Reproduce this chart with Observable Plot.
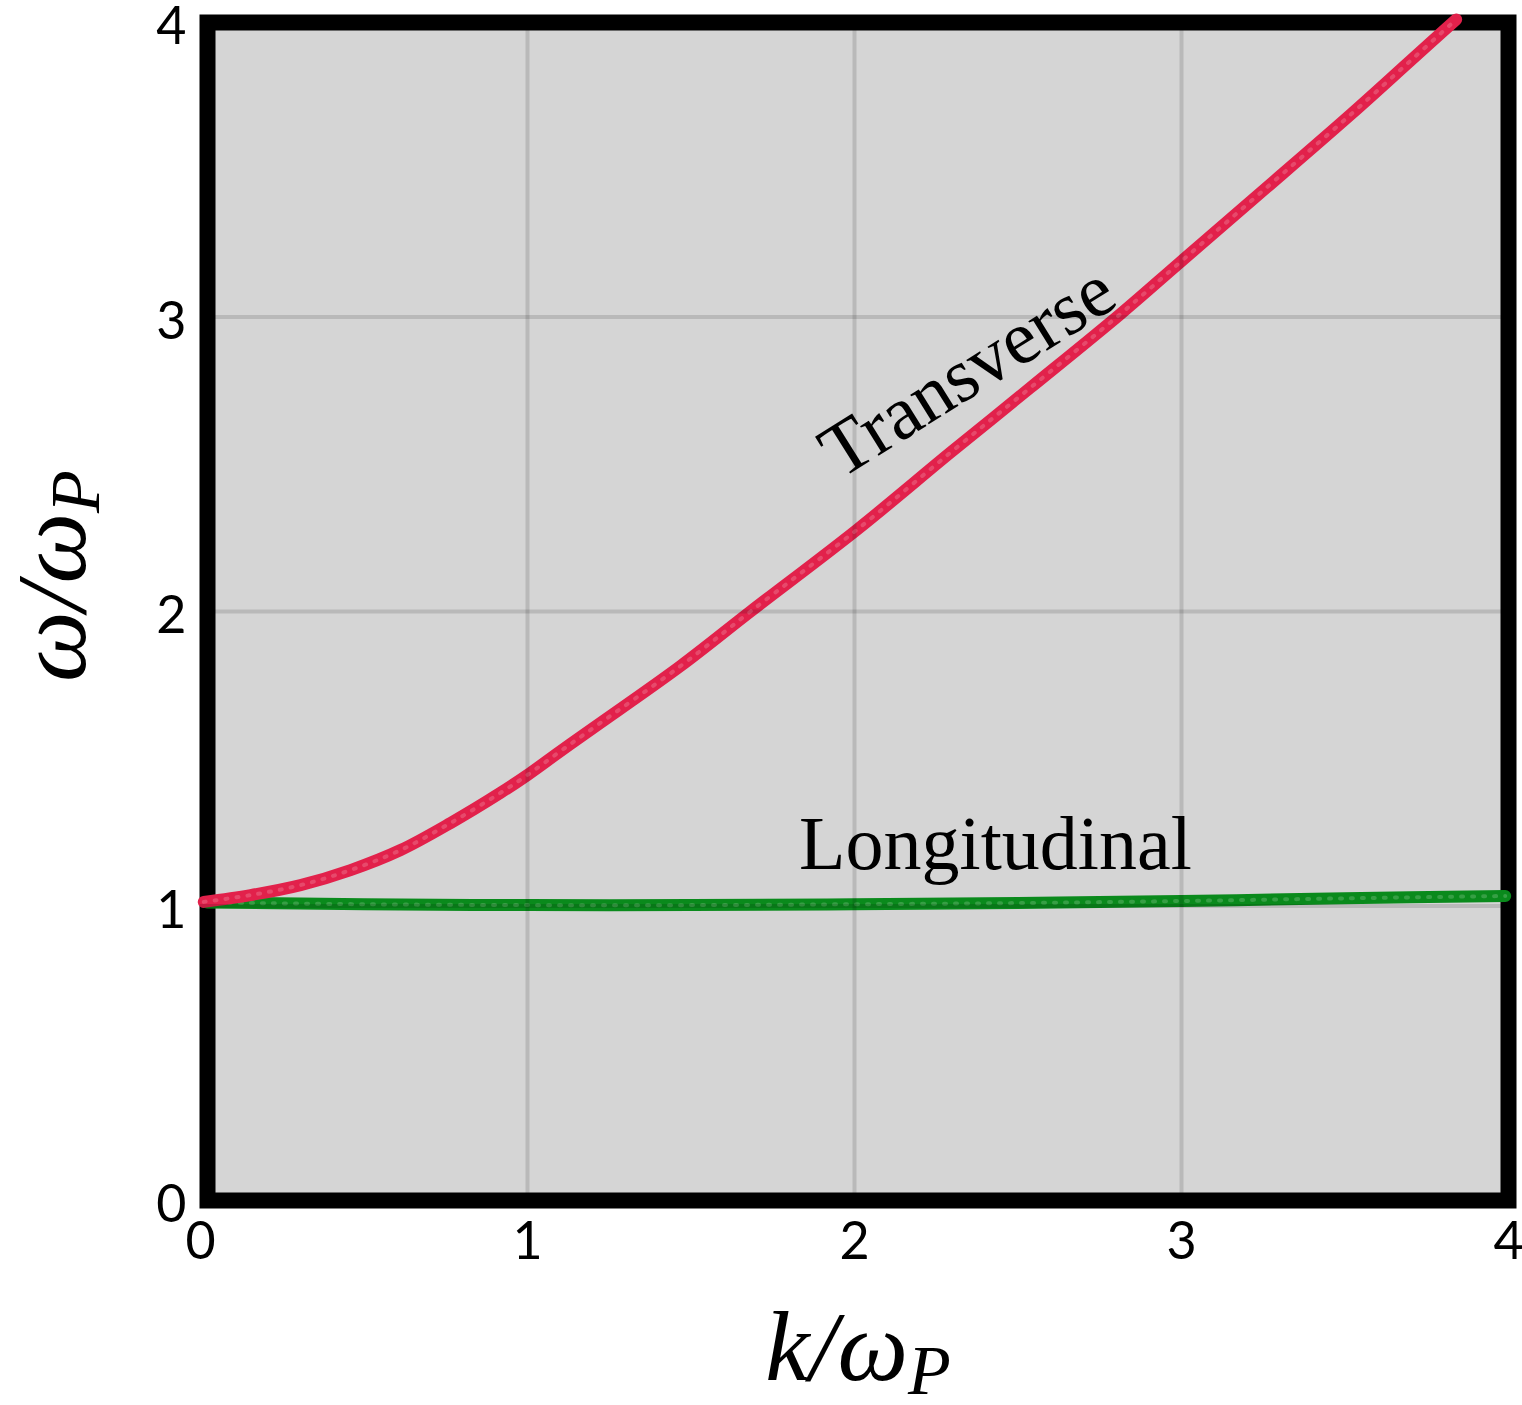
<!DOCTYPE html>
<html>
<head>
<meta charset="utf-8">
<script src="https://cdn.jsdelivr.net/npm/d3@7"></script>
<script src="https://cdn.jsdelivr.net/npm/@observablehq/plot@0.6"></script>
<style>
  html, body { margin: 0; padding: 0; background: white; }
  #chart svg { display: block; }
</style>
</head>
<body>
<div id="chart"></div>
<script>
// Transverse branch (k/ωP, ω/ωP)
const transverseK = [0.01, 0.153, 0.306, 0.459, 0.612, 0.765, 0.917, 1.0, 1.10, 1.208, 1.468, 1.682, 2.009, 2.294, 2.538, 2.813, 2.997, 3.24, 3.52, 3.70, 3.84];
const transverseW = [1.014, 1.037, 1.071, 1.122, 1.19, 1.282, 1.384, 1.445, 1.525, 1.61, 1.815, 2.0, 2.279, 2.54, 2.76, 3.01, 3.187, 3.42, 3.69, 3.87, 4.01];
// Longitudinal branch
const longitudinalK = [0.02, 0.5, 1.0, 1.5, 2.0, 2.5, 3.0, 3.5, 3.99];
const longitudinalW = [1.012, 1.006, 1.003, 1.003, 1.006, 1.01, 1.017, 1.026, 1.034];
// Ticks
const tickValues = [0, 1, 2, 3, 4];
const gridValues = [1, 2, 3];
// Curve labels
const labelTexts = ["Transverse", "Longitudinal"];
const labelK = [2.385, 2.431];
const labelW = [2.745, 1.127];
const labelRotate = [-32, 0];

const transverse = transverseK.map((k, i) => ({k, w: transverseW[i]}));
const longitudinal = longitudinalK.map((k, i) => ({k, w: longitudinalW[i]}));
const labels = labelTexts.map((t, i) => ({t, k: labelK[i], w: labelW[i], r: labelRotate[i]}));

const chalk = {strokeWidth: 4, stroke: "white", strokeOpacity: 0.18, strokeDasharray: "2 9", curve: "catmull-rom", clip: false};

const chart = Plot.plot({
  width: 1522,
  height: 1405,
  marginLeft: 200,
  marginRight: 14,
  marginTop: 22,
  marginBottom: 205,
  style: {fontFamily: "Lato, 'Noto Sans', sans-serif", fontSize: "52px", color: "black", background: "white", overflow: "visible"},
  x: {domain: [0, 4]},
  y: {domain: [0, 4]},
  marks: [
    Plot.frame({fill: "#d5d5d5", insetLeft: 7}),
    Plot.frame({stroke: "black", strokeWidth: 16, insetLeft: 7}),
    Plot.line(longitudinal, {x: "k", y: "w", stroke: "#0a8a1c", strokeWidth: 12, curve: "catmull-rom", clip: false}),
    Plot.line(longitudinal, {x: "k", y: "w", ...chalk}),
    Plot.line(transverse, {x: "k", y: "w", stroke: "#e2214b", strokeWidth: 12, curve: "catmull-rom", clip: false}),
    Plot.line(transverse, {x: "k", y: "w", ...chalk}),
    Plot.gridX(gridValues, {stroke: "black", strokeOpacity: 0.13, strokeWidth: 4}),
    Plot.gridY(gridValues, {stroke: "black", strokeOpacity: 0.13, strokeWidth: 4}),
    Plot.text(labels, {x: "k", y: "w", text: "t", rotate: "r", textAnchor: "middle", lineAnchor: "bottom", fontFamily: "'Liberation Serif', serif", fontSize: 76, fill: "black"}),
    Plot.axisX(tickValues, {tickSize: 0, tickPadding: 22, label: null, fontSize: 52, tickFormat: "d"}),
    Plot.axisY(tickValues, {tickSize: 0, tickPadding: 14, label: null, fontSize: 52, tickFormat: "d", dy: 5})
  ]
});

document.getElementById("chart").appendChild(chart);

// Axis titles with subscripts
const svg = d3.select(chart);
const xs = chart.scale("x").range;
const xt = svg.append("text")
  .attr("x", (xs[0] + xs[1]) / 2 + 4)
  .attr("y", 1380)
  .attr("text-anchor", "middle")
  .attr("font-family", "'Liberation Serif', serif")
  .attr("font-style", "italic")
  .attr("font-size", 100)
  .attr("fill", "black");
xt.append("tspan").text("k/ω");
xt.append("tspan").attr("font-size", 70).attr("dy", 14).text("P");

const yt = svg.append("text")
  .attr("transform", "translate(85,576) rotate(-90)")
  .attr("text-anchor", "middle")
  .attr("font-family", "'Liberation Serif', serif")
  .attr("font-style", "italic")
  .attr("font-size", 100)
  .attr("fill", "black");
yt.append("tspan").text("ω/ω");
yt.append("tspan").attr("font-size", 70).attr("dy", 14).text("P");
</script>
</body>
</html>
